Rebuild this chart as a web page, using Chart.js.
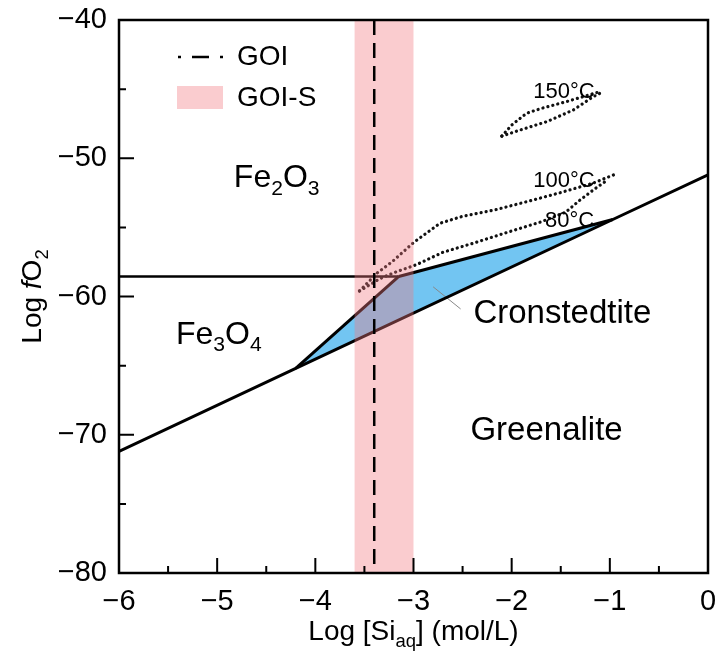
<!DOCTYPE html>
<html>
<head>
<meta charset="utf-8">
<script src="https://cdn.jsdelivr.net/npm/chart.js@4.4.0/dist/chart.umd.min.js"></script>
<style>
  html, body { margin: 0; padding: 0; background: #fff; }
  #wrap { width: 716px; height: 658px; }
</style>
</head>
<body>
<div id="wrap"><canvas id="chart"></canvas></div>
<script>
// phase boundaries, points are [log Si_aq, log fO2]
const fe2o3Fe3o4 = [[-6, -58.55], [-3.15, -58.55]];
const fe2o3Cron = [[-3.15, -58.55], [-0.97, -54.43]];
const fe3o4Cron = [[-4.2, -65.2], [-3.15, -58.55]];
const greenaliteBoundary = [[-6, -71.2], [-4.2, -65.2], [-0.97, -54.43], [0, -51.2]];
const cronField = [[-4.2, -65.2], [-3.15, -58.55], [-0.97, -54.43], [-4.2, -65.2]];
const cronLeader = [[-2.8, -59.3], [-2.52, -60.9]];

// dotted temperature curves
const t150upper = [[-2.1, -48.4], [-2.0, -47.6], [-1.85, -46.75], [-1.7, -46.4], [-1.44, -45.9], [-1.1, -45.18]];
const t150lower = [[-2.1, -48.4], [-1.91, -47.95], [-1.64, -47.35], [-1.37, -46.5], [-1.17, -45.55], [-1.1, -45.3]];
const t100 = [[-3.55, -59.6], [-3.37, -58.3], [-3.22, -57.5], [-3.0, -56.1], [-2.73, -54.7], [-2.5, -54.2],
              [-2.18, -53.75], [-1.85, -53.15], [-1.51, -52.5], [-1.17, -51.8], [-0.96, -51.2]];
const t80 = [[-3.55, -59.6], [-3.34, -58.7], [-3.17, -58.2], [-2.97, -57.7], [-2.7, -56.8], [-2.37, -56.1],
             [-2.04, -55.35], [-1.7, -54.6], [-1.45, -53.9], [-1.3, -53.0], [-1.15, -52.2], [-1.03, -51.6]];

// GOI value and GOI-S range
const goiX = -3.4;
const goiRange = [-3.6, -3.0];

const xTicks = [-6, -5, -4, -3, -2, -1, 0];
const yTicks = [-80, -70, -60, -50, -40];

const FONT = "'Liberation Sans', Arial, Helvetica, sans-serif";
const PINK = 'rgba(242,120,130,0.38)';
const pts = arr => arr.map(([x, y]) => ({ x, y }));
const fmt = v => String(v).replace('-', '\u2212');

const lineSet = (data, extra) => Object.assign({
  data: pts(data), borderColor: '#000', borderWidth: 3, pointRadius: 0, fill: false, tension: 0
}, extra);
const dotted = data => lineSet(data, { borderWidth: 3.2, borderDash: [0.1, 5], borderCapStyle: 'round', borderColor: '#111' });

const datasets = [
  // top of the stack first
  lineSet([[goiX, -40], [goiX, -80]], { borderWidth: 2.5, borderDash: [15, 8] }),
  lineSet([[goiRange[0], -40], [goiRange[1], -40], [goiRange[1], -80], [goiRange[0], -80], [goiRange[0], -40]],
    { borderWidth: 0, fill: 'shape', backgroundColor: PINK }),
  dotted(t150upper), dotted(t150lower), dotted(t100), dotted(t80),
  lineSet(fe2o3Fe3o4, { borderWidth: 2.5 }),
  lineSet(fe2o3Cron), lineSet(fe3o4Cron), lineSet(greenaliteBoundary),
  lineSet(cronLeader, { borderWidth: 1, borderColor: '#888' }),
  lineSet(cronField, { borderWidth: 0, fill: 'shape', backgroundColor: '#72C5F2' })
];

function drawRich(ctx, parts, x, y, size, align) {
  const subSize = size * 0.66;
  let w = 0;
  parts.forEach(([t, s]) => {
    ctx.font = (s === 'it' ? 'italic ' : '') + (s === 'sub' ? subSize : size) + 'px ' + FONT;
    w += ctx.measureText(t).width;
  });
  let cx = align === 'center' ? x - w / 2 : x;
  ctx.textAlign = 'left';
  ctx.textBaseline = 'alphabetic';
  parts.forEach(([t, s]) => {
    ctx.font = (s === 'it' ? 'italic ' : '') + (s === 'sub' ? subSize : size) + 'px ' + FONT;
    ctx.fillText(t, cx, s === 'sub' ? y + size * 0.24 : y);
    cx += ctx.measureText(t).width;
  });
}

const decor = {
  id: 'decor',
  afterDraw(chart) {
    const { ctx, chartArea: a, scales: { x, y } } = chart;
    ctx.save();
    ctx.strokeStyle = '#000';
    ctx.lineWidth = 2;
    ctx.beginPath();
    for (let v = -5.5; v < 0; v += 0.5) {
      const px = x.getPixelForValue(v);
      ctx.moveTo(px, a.bottom);
      ctx.lineTo(px, a.bottom - (Number.isInteger(v) ? 15 : 7));
    }
    for (let v = -75; v < -40; v += 5) {
      const py = y.getPixelForValue(v);
      ctx.moveTo(a.left, py);
      ctx.lineTo(a.left + (v % 10 === 0 ? 15 : 7), py);
    }
    ctx.stroke();
    ctx.lineWidth = 2.5;
    ctx.strokeRect(a.left, a.top, a.right - a.left, a.bottom - a.top);

    // legend
    ctx.lineWidth = 2.5;
    ctx.setLineDash([17, 11]);
    ctx.lineDashOffset = 14;
    ctx.beginPath();
    ctx.moveTo(a.left + 59, a.top + 37);
    ctx.lineTo(a.left + 104, a.top + 37);
    ctx.stroke();
    ctx.setLineDash([]);
    ctx.fillStyle = PINK;
    ctx.fillRect(a.left + 58, a.top + 66, 46, 23);
    ctx.fillStyle = '#000';
    ctx.font = '28px ' + FONT;
    ctx.textBaseline = 'middle';
    ctx.textAlign = 'left';
    ctx.fillText('GOI', a.left + 118, a.top + 37);
    ctx.fillText('GOI-S', a.left + 118, a.top + 78);

    // field labels
    const P = (vx, vy) => [x.getPixelForValue(vx), y.getPixelForValue(vy)];
    let p = P(-4.83, -52.1);
    drawRich(ctx, [['Fe'], ['2', 'sub'], ['O'], ['3', 'sub']], p[0], p[1], 32);
    p = P(-5.42, -63.4);
    drawRich(ctx, [['Fe'], ['3', 'sub'], ['O'], ['4', 'sub']], p[0], p[1], 32);
    p = P(-2.39, -61.9);
    drawRich(ctx, [['Cronstedtite']], p[0], p[1], 33);
    p = P(-2.42, -70.4);
    drawRich(ctx, [['Greenalite']], p[0], p[1], 33);
    p = P(-1.78, -45.64);
    drawRich(ctx, [['150°C']], p[0], p[1], 22);
    p = P(-1.78, -52.05);
    drawRich(ctx, [['100°C']], p[0], p[1], 22);
    p = P(-1.66, -54.95);
    drawRich(ctx, [['80°C']], p[0], p[1], 22);

    // axis titles
    drawRich(ctx, [['Log [Si'], ['aq', 'sub'], ['] (mol/L)']], (a.left + a.right) / 2, 640, 28, 'center');
    ctx.translate(41, (a.top + a.bottom) / 2);
    ctx.rotate(-Math.PI / 2);
    drawRich(ctx, [['Log '], ['f', 'it'], ['O'], ['2', 'sub']], 0, 0, 28, 'center');
    ctx.restore();
  }
};

const noPad = s => { s.paddingTop = 0; s.paddingBottom = 0; s.paddingLeft = 0; s.paddingRight = 0; };

new Chart(document.getElementById('chart'), {
  type: 'line',
  data: { datasets },
  options: {
    responsive: true,
    maintainAspectRatio: false,
    animation: false,
    layout: { padding: { top: 20, right: 8, left: 0, bottom: 0 } },
    plugins: { legend: { display: false }, tooltip: { enabled: false } },
    scales: {
      x: {
        type: 'linear', min: -6, max: 0,
        afterBuildTicks: s => { s.ticks = xTicks.map(v => ({ value: v })); },
        afterFit: s => { s.height = 85; noPad(s); },
        grid: { display: false, drawTicks: false }, border: { display: false },
        ticks: { callback: fmt, color: '#000', padding: 12, maxRotation: 0, font: { family: FONT, size: 29 } }
      },
      y: {
        type: 'linear', min: -80, max: -40,
        afterBuildTicks: s => { s.ticks = yTicks.map(v => ({ value: v })); },
        afterFit: s => { s.width = 119; noPad(s); },
        grid: { display: false, drawTicks: false }, border: { display: false },
        ticks: { callback: fmt, color: '#000', padding: 12, font: { family: FONT, size: 29 } }
      }
    }
  },
  plugins: [decor]
});
</script>
</body>
</html>
